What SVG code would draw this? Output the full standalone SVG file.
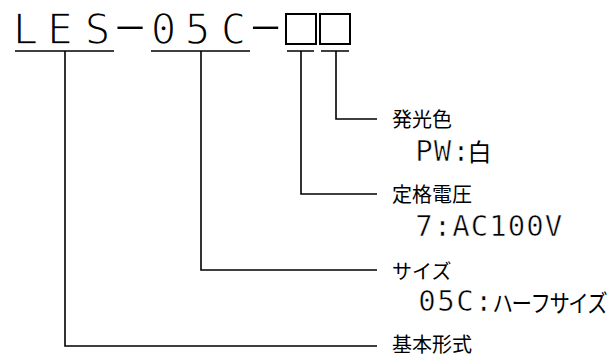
<svg xmlns="http://www.w3.org/2000/svg" width="607" height="360" viewBox="0 0 607 360">
<style>
.t{font-family:"DejaVu Sans Mono","Liberation Mono",monospace;fill:#000;stroke:#fff}
.title{font-size:42.5px;stroke-width:1.5}
.code{font-size:29px;stroke-width:0.6}
.dash{font-family:"DejaVu Sans",sans-serif;font-size:30px;fill:#000}
.jp{font-family:"Noto Sans CJK JP","Noto Sans",sans-serif;font-size:20px;fill:#000}
.ln{stroke:#000;stroke-width:1.6;fill:none}
.box{stroke:#000;stroke-width:2;fill:none}
</style>
<rect width="607" height="360" fill="#fff"/>
<g id="model-code">
<text class="t title" y="44" text-anchor="middle" x="25.5 60 97.5">LES</text>
<text class="dash" transform="translate(130,36.2) scale(3.2,1)" text-anchor="middle">-</text>
<text class="t title" y="44" text-anchor="middle" x="163.5 197.5 233.5">05C</text>
<text class="dash" transform="translate(265.5,36.2) scale(3.2,1)" text-anchor="middle">-</text>
<rect class="box" x="286" y="14" width="30" height="30"/>
<rect class="box" x="320" y="14" width="30" height="30"/>
<path class="ln" d="M15,51H114M151,51H250M287,51H314M321,51H349"/>
</g>
<g id="connectors">
<path class="ln" d="M65,51V346H377"/>
<path class="ln" d="M201,51V270H377"/>
<path class="ln" d="M301,51V194H377"/>
<path class="ln" d="M336,51V119H377"/>
</g>
<g id="node-color">
<text class="jp" x="392" y="127">発光色</text>
<text class="t code" y="161" text-anchor="middle" x="424 442.5 461">PW:</text>
<text class="jp" x="479.5" y="161" text-anchor="middle" style="font-size:24px">白</text>
</g>
<g id="node-voltage">
<text class="jp" x="392" y="202">定格電圧</text>
<text class="t code" y="236" text-anchor="middle" x="424 442.5 461 479.5 498 516.5 535 553.5">7:AC100V</text>
</g>
<g id="node-size">
<text class="jp" x="392" y="279">サイズ</text>
<text class="t code" y="311" text-anchor="middle" x="427 446 464.9 483.8">05C:</text>
<text class="jp" y="312" text-anchor="middle" style="font-size:24px" transform="scale(0.85,1)" x="591.5 613.8 636 658.4 680.6 702.9">ハーフサイズ</text>
</g>
<g id="node-basic">
<text class="jp" x="392" y="352">基本形式</text>
</g>
</svg>
